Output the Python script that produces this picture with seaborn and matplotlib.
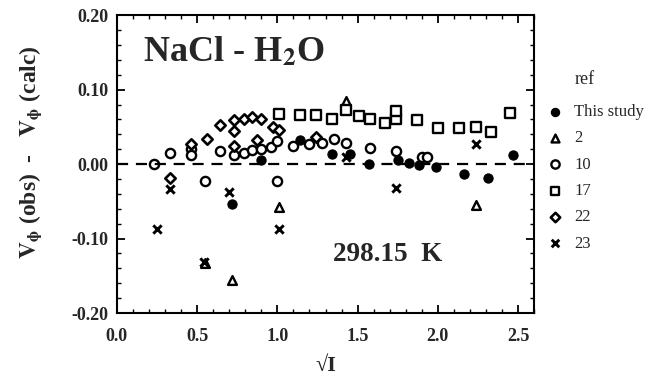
import numpy as np
import pandas as pd
import matplotlib
matplotlib.use("Agg")
import matplotlib.pyplot as plt
import seaborn as sns
from matplotlib.ticker import MultipleLocator, FixedLocator

# --- data: deviations V_phi(obs) - V_phi(calc) vs sqrt(I) ---
this_study_x = [0.72, 0.90, 1.14, 1.34, 1.45, 1.57, 1.75, 1.82, 1.88, 1.99, 2.16, 2.31, 2.47]
this_study_y = [-0.054, 0.006, 0.032, 0.013, 0.013, 0.000, 0.005, 0.002, -0.001, -0.004, -0.013, -0.018, 0.012]

ref2_x = [0.55, 0.72, 1.01, 1.43, 2.24]
ref2_y = [-0.133, -0.155, -0.057, 0.085, -0.055]

ref10_x = [0.23, 0.33, 0.46, 0.46, 0.55, 0.64, 0.73, 0.79, 0.84, 0.90, 0.96, 1.00, 1.00,
           1.10, 1.20, 1.28, 1.35, 1.43, 1.58, 1.74, 1.90, 1.93]
ref10_y = [0.000, 0.015, 0.020, 0.012, -0.023, 0.017, 0.012, 0.015, 0.019, 0.020, 0.023, 0.031, -0.023,
           0.024, 0.027, 0.029, 0.034, 0.029, 0.022, 0.017, 0.010, 0.010]

ref17_x = [1.01, 1.14, 1.24, 1.34, 1.43, 1.51, 1.58, 1.67, 1.74, 1.74, 1.87, 2.00, 2.13, 2.24, 2.33, 2.45]
ref17_y = [0.067, 0.066, 0.066, 0.060, 0.072, 0.064, 0.060, 0.055, 0.060, 0.071, 0.059, 0.048, 0.048, 0.050, 0.043, 0.069]

ref22_x = [0.33, 0.46, 0.56, 0.64, 0.73, 0.73, 0.73, 0.79, 0.84, 0.87, 0.90, 0.97, 1.01, 1.24]
ref22_y = [-0.018, 0.027, 0.034, 0.052, 0.059, 0.045, 0.024, 0.060, 0.063, 0.032, 0.060, 0.050, 0.046, 0.037]

ref23_x = [0.25, 0.33, 0.54, 0.70, 1.01, 1.43, 1.74, 2.24]
ref23_y = [-0.087, -0.034, -0.131, -0.037, -0.087, 0.009, -0.032, 0.027]

series_names = ["This study", "2", "10", "17", "22", "23"]
x_ticks = [0.0, 0.5, 1.0, 1.5, 2.0, 2.5]
x_ticklabels = ["0.0", "0.5", "1.0", "1.5", "2.0", "2.5"]
y_ticks = [-0.2, -0.1, 0.0, 0.1, 0.2]
y_ticklabels = ["-0.20", "-0.10", "0.00", "0.10", "0.20"]

frames = []
for name, xs, ys in zip(series_names,
                        [this_study_x, ref2_x, ref10_x, ref17_x, ref22_x, ref23_x],
                        [this_study_y, ref2_y, ref10_y, ref17_y, ref22_y, ref23_y]):
    frames.append(pd.DataFrame({"sqrtI": xs, "dev": ys, "ref": name}))
df = pd.concat(frames, ignore_index=True)

sns.set_theme(style="ticks")
serif = ["Liberation Serif", "DejaVu Serif"]
plt.rcParams["font.family"] = serif
plt.rcParams["mathtext.fontset"] = "stix"

fig = plt.figure(figsize=(6.53, 3.79), dpi=100)
ax = fig.add_axes([0.179, 0.174, 0.639, 0.786])

styles = {
    "This study": dict(marker="o", s=44, facecolor="black", edgecolor="black", linewidth=0.8),
    "2": dict(marker="^", s=40, facecolor="white", edgecolor="black", linewidth=1.7),
    "10": dict(marker="o", s=44, facecolor="white", edgecolor="black", linewidth=1.7),
    "17": dict(marker="s", s=44, facecolor="white", edgecolor="black", linewidth=1.7),
    "22": dict(marker="D", s=28, facecolor="white", edgecolor="black", linewidth=1.9),
    "23": dict(marker="x", s=36, color="black", linewidth=2.1),
}
for name in series_names:
    sub = df[df["ref"] == name]
    sns.scatterplot(data=sub, x="sqrtI", y="dev", ax=ax, label=name, legend=False, **styles[name])

ax.axhline(0.0, color="black", lw=1.6, ls=(0, (5, 3.5)), zorder=1)

ax.set_xlim(0.0, 2.6)
ax.set_ylim(-0.2, 0.2)
ax.xaxis.set_major_locator(FixedLocator(x_ticks))
ax.set_xticklabels(x_ticklabels)
ax.yaxis.set_major_locator(FixedLocator(y_ticks))
ax.set_yticklabels(y_ticklabels)
ax.xaxis.set_minor_locator(MultipleLocator(0.1))
ax.yaxis.set_minor_locator(MultipleLocator(0.02))
ax.tick_params(which="both", direction="in", top=True, right=True, color="black")
ax.tick_params(which="major", length=6, width=1.3, labelsize=13)
ax.tick_params(axis="x", which="major", pad=11)
ax.tick_params(axis="y", which="major", pad=6)
ax.tick_params(which="minor", length=3, width=1.0)
for lbl in ax.get_xticklabels() + ax.get_yticklabels():
    lbl.set_fontweight("bold")
for sp in ax.spines.values():
    sp.set_linewidth(1.5)
    sp.set_color("black")

ax.set_xlabel("√I", fontsize=16, fontweight="bold", labelpad=8)
ax.set_ylabel(r"$\mathbf{V_{\phi}}$ (obs)  -   $\mathbf{V_{\phi}}$ (calc)",
              fontsize=17, fontweight="bold")
ax.yaxis.set_label_coords(-0.175, 0.54)

ax.text(0.16, 0.150, r"NaCl - H$_\mathbf{2}$O", fontsize=26, fontweight="bold",
        va="center", ha="left")
ax.text(1.69, -0.121, "298.15  K", fontsize=19.5, fontweight="bold", va="center", ha="center")

handles, labels = ax.get_legend_handles_labels()
leg = fig.legend(handles, labels, loc="upper left", bbox_to_anchor=(0.812, 0.765),
                 frameon=False, fontsize=12, handletextpad=0.55, labelspacing=0.62,
                 markerscale=0.9, handlelength=1.2)
fig.text(575 / 653, 1 - 79 / 379, "ref", fontsize=13, va="center", ha="left")

fig.savefig("out.png", dpi=100)
